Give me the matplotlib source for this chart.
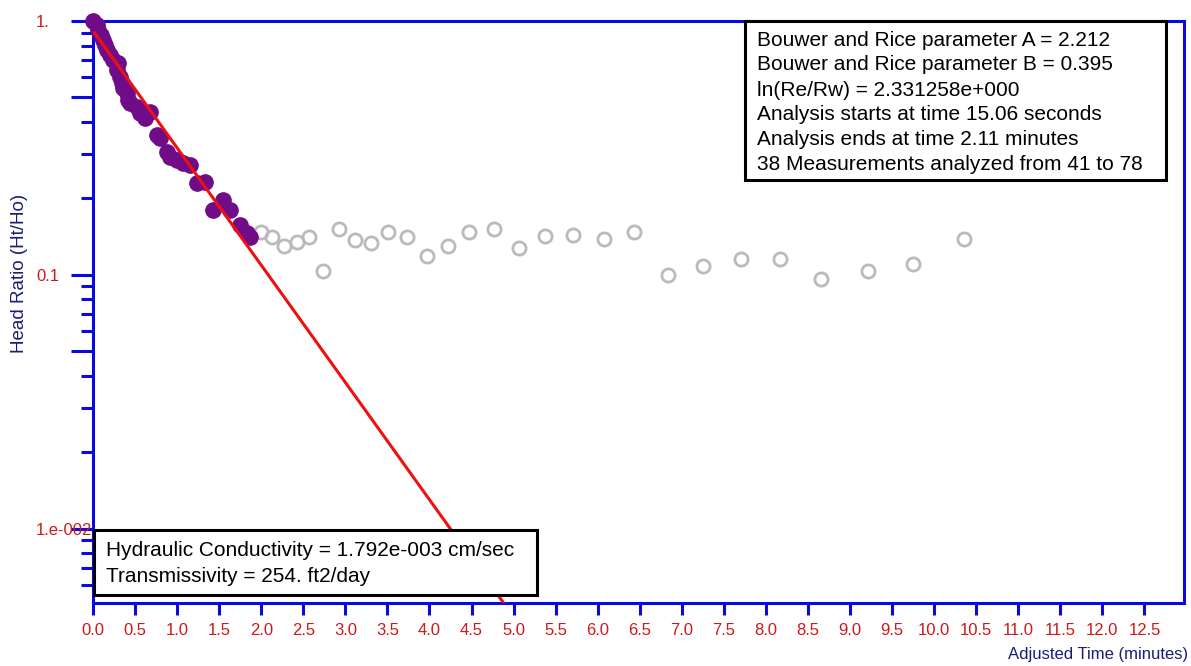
import numpy as np
import matplotlib
matplotlib.use("Agg")
import matplotlib.pyplot as plt
from matplotlib.patches import Rectangle
from matplotlib.ticker import FixedLocator, NullFormatter

plt.rcParams["font.family"] = ["Liberation Sans", "DejaVu Sans"]

# analysed measurements (purple, filled)
t_fit = [0.0, 0.05, 0.06, 0.10, 0.12, 0.14, 0.17, 0.20, 0.24, 0.30, 0.29, 0.32,
         0.35, 0.36, 0.40, 0.42, 0.44, 0.52, 0.56, 0.62, 0.68, 0.76, 0.80, 0.88,
         0.92, 1.00, 1.07, 1.15, 1.24, 1.33, 1.43, 1.54, 1.63, 1.75, 1.83, 1.87]
h_fit = [1.0, 0.964, 0.922, 0.881, 0.842, 0.804, 0.769, 0.735, 0.702, 0.683, 0.641, 0.602,
         0.570, 0.545, 0.521, 0.489, 0.476, 0.459, 0.434, 0.415, 0.438, 0.356, 0.346, 0.305,
         0.291, 0.284, 0.276, 0.271, 0.230, 0.232, 0.180, 0.197, 0.180, 0.157, 0.146, 0.141]

# remaining measurements (grey, open)
t_rest = [2.00, 2.13, 2.27, 2.42, 2.57, 2.74, 2.92, 3.11, 3.31, 3.51, 3.73, 3.97,
          4.22, 4.47, 4.77, 5.07, 5.37, 5.71, 6.07, 6.43, 6.83, 7.25, 7.70, 8.17,
          8.66, 9.21, 9.75, 10.35]
h_rest = [0.147, 0.141, 0.130, 0.135, 0.141, 0.104, 0.151, 0.137, 0.133, 0.147, 0.141, 0.119,
          0.130, 0.147, 0.152, 0.128, 0.142, 0.144, 0.138, 0.147, 0.100, 0.1085, 0.116, 0.116,
          0.0964, 0.104, 0.110, 0.138]

# fitted straight line (end points)
t_line = [0.02, 4.90]
h_line = [0.897, 0.0050]

info_lines = [
    "Bouwer and Rice parameter A = 2.212",
    "Bouwer and Rice parameter B = 0.395",
    "ln(Re/Rw) = 2.331258e+000",
    "Analysis starts at time 15.06 seconds",
    "Analysis ends at time 2.11 minutes",
    "38 Measurements analyzed from 41 to 78",
]
result_lines = [
    "Hydraulic Conductivity = 1.792e-003 cm/sec",
    "Transmissivity = 254. ft2/day",
]

BLUE = "#0a0ae0"
RED_TXT = "#d01818"
NAVY = "#1c1c78"

W, H = 1191, 666
fig = plt.figure(figsize=(W / 100, H / 100), dpi=100)
ax = fig.add_axes([93 / W, 1 - 603 / H, (1184 - 93) / W, (603 - 21) / H])

ax.set_yscale("log")
ax.set_xlim(0, 12.97)
ax.set_ylim(0.0051, 1.0)

ax.plot(t_rest, h_rest, "o", ms=9.5, mfc="none", mec="#bababa", mew=2.0, zorder=3)
ax.plot(t_fit, h_fit, "o", ms=11, color="#700c88", mec="#700c88", zorder=4, clip_on=False)
ax.plot(t_line, h_line, color="#ee1010", lw=2.2, zorder=5)

for s in ["left", "right", "top", "bottom"]:
    ax.spines[s].set_color(BLUE)
    ax.spines[s].set_linewidth(2.2)

# x ticks
xt = np.arange(0, 12.51, 0.5)
ax.set_xticks(xt)
ax.set_xticklabels([f"{v:.1f}" for v in xt])
ax.tick_params(axis="x", direction="out", length=8.6, width=2.2, color=BLUE,
               labelcolor=RED_TXT, labelsize=12, pad=6)

# y ticks
ymaj = [0.01, 0.05, 0.1, 0.5, 1.0]
ylab = ["1.e-002", "", "0.1", "", "1."]
ymin = [0.006, 0.007, 0.008, 0.009, 0.02, 0.03, 0.04, 0.06, 0.07, 0.08, 0.09,
        0.2, 0.3, 0.4, 0.6, 0.7, 0.8, 0.9]
ax.yaxis.set_major_locator(FixedLocator(ymaj))
ax.set_yticklabels(ylab)
ax.yaxis.set_minor_locator(FixedLocator(ymin))
ax.yaxis.set_minor_formatter(NullFormatter())
ax.tick_params(axis="y", which="major", direction="out", length=16, width=2.2, color=BLUE,
               labelcolor=RED_TXT, labelsize=12, pad=25)
ax.tick_params(axis="y", which="minor", direction="out", length=8.6, width=2.2, color=BLUE)
for lbl in ax.get_yticklabels():
    lbl.set_horizontalalignment("left")


def px_to_ax(x, y):
    return (x - 93) / (1184 - 93), 1 - (y - 21) / (603 - 21)


# info box top right
x0, y0 = px_to_ax(745, 180)
x1, y1 = px_to_ax(1166, 21)
ax.add_patch(Rectangle((x0, y0), x1 - x0, y1 - y0, transform=ax.transAxes,
                       fc="white", ec="black", lw=2.2, zorder=10, clip_on=False))
for i, line in enumerate(info_lines):
    tx, ty = px_to_ax(757, 40 + 25 * i)
    ax.text(tx, ty, line, transform=ax.transAxes, ha="left", va="center",
            fontsize=15, color="black", zorder=11)

# result box bottom left
x0, y0 = px_to_ax(94, 595)
x1, y1 = px_to_ax(537, 530)
ax.add_patch(Rectangle((x0, y0), x1 - x0, y1 - y0, transform=ax.transAxes,
                       fc="white", ec="black", lw=2.2, zorder=10, clip_on=False))
for i, line in enumerate(result_lines):
    tx, ty = px_to_ax(106, 551 + 26 * i)
    ax.text(tx, ty, line, transform=ax.transAxes, ha="left", va="center",
            fontsize=15, color="black", zorder=11)

fig.text(1188 / W, 1 - 655 / H, "Adjusted Time (minutes)", ha="right", va="center",
         fontsize=12, color=NAVY)
fig.text(20 / W, 1 - 273 / H, "Head Ratio (Ht/Ho)", ha="center", va="center",
         rotation=90, fontsize=13.5, color=NAVY)

fig.savefig("out.png", dpi=100, facecolor="white")
